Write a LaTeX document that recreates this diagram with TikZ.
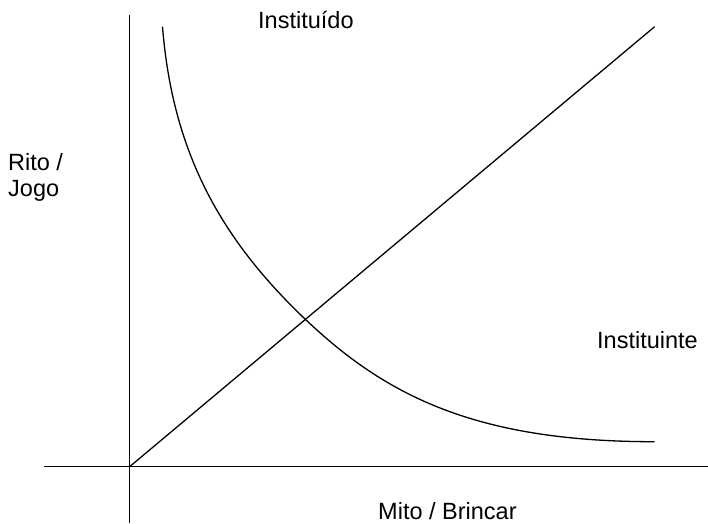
\documentclass[tikz,border=0pt]{standalone}
\usepackage{fontspec}
\setmainfont{Liberation Sans}
\begin{document}
\begin{tikzpicture}[x=1pt,y=-1pt,
  lbl/.style={inner sep=0pt,anchor=base west,font=\fontsize{23.5}{27}\selectfont},
  ln/.style={line width=1.3pt,black}]
\useasboundingbox (0,0) rectangle (708,523);
\coordinate (o) at (129.6,466.7);
\coordinate (vtop) at (129.6,15);
\coordinate (vbot) at (129.6,523);
\coordinate (hl) at (44,466.7);
\coordinate (hr) at (708,466.7);
\coordinate (dtop) at (654.6,26.7);
\coordinate (cs) at (162.5,26.7);
\coordinate (cm) at (305,319);
\coordinate (ce) at (654.6,441.7);
\draw[ln] (vtop) -- (vbot);
\draw[ln] (hl) -- (hr);
\draw[ln] (o) -- (dtop);
\draw[ln] (cs) .. controls (172.5,151.7) and (220,238) .. (cm)
  .. controls (385,395) and (474.6,441.7) .. (ce);
\node[lbl] (t1) at (258,28) {Instituído};
\node[lbl] (t2) at (8,170) {Rito /};
\node[lbl] (t3) at (8,196) {Jogo};
\node[lbl] (t4) at (597,348) {Instituinte};
\node[lbl] (t5) at (378,519) {Mito / Brincar};
\end{tikzpicture}
\end{document}
